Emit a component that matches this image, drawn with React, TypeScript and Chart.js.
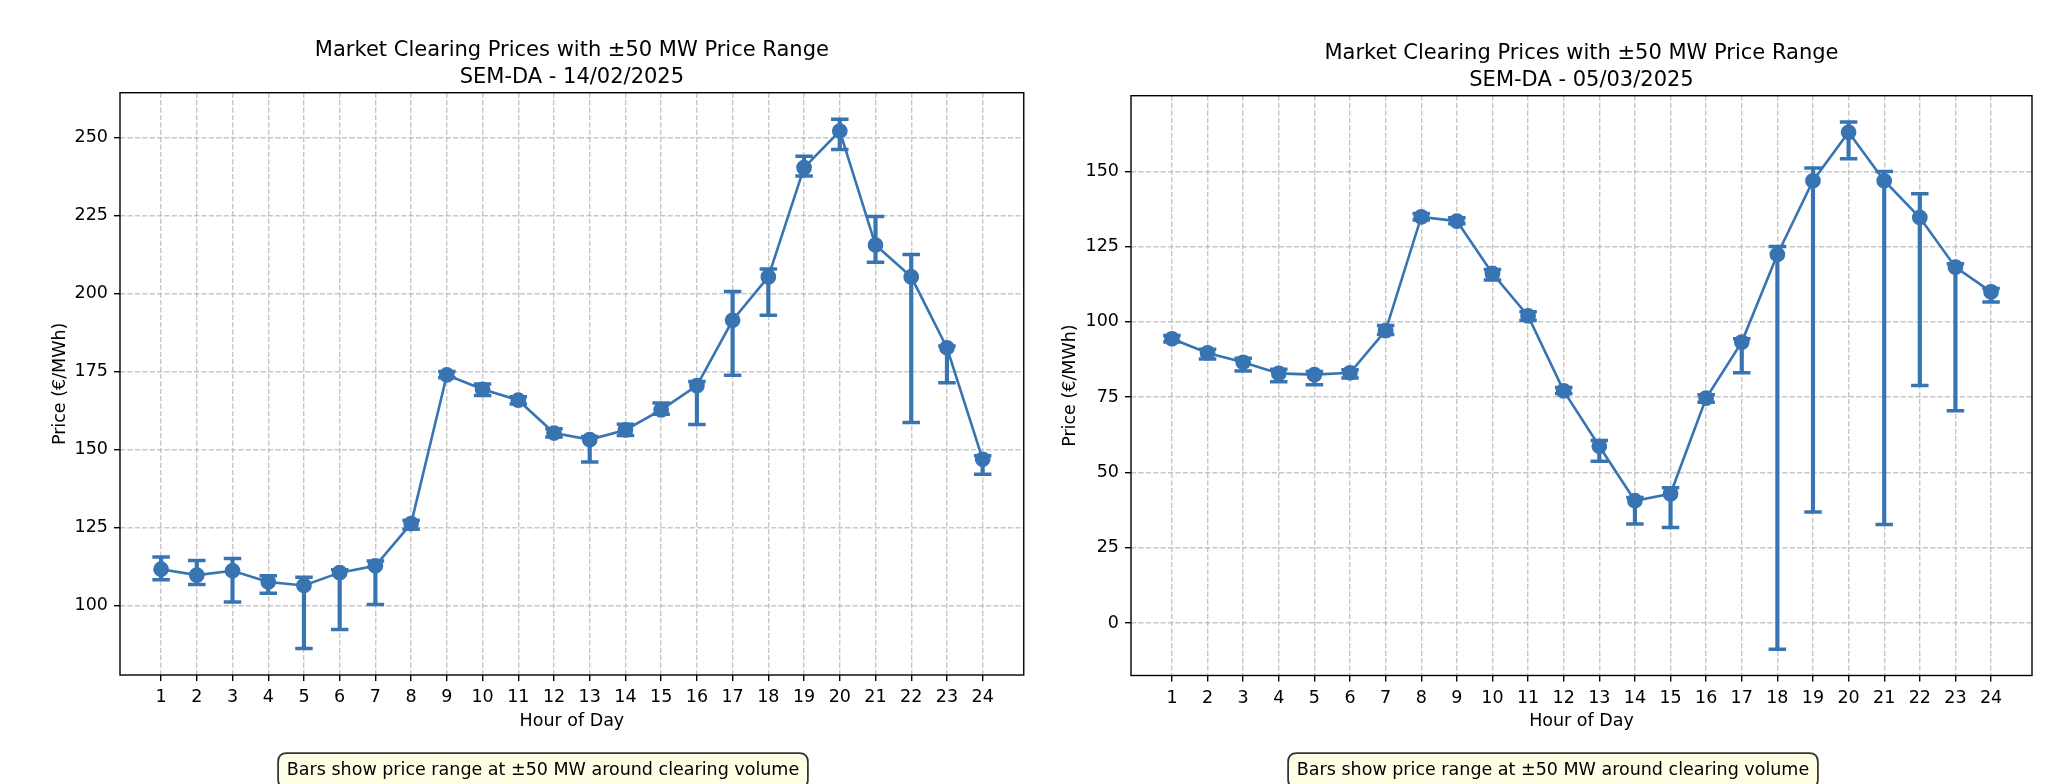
import React, { useEffect, useRef } from "react";
import { Chart, registerables } from "chart.js";

Chart.register(...registerables);

// ---------- data ----------
const hours = [1, 2, 3, 4, 5, 6, 7, 8, 9, 10, 11, 12, 13, 14, 15, 16, 17, 18, 19, 20, 21, 22, 23, 24];
const hourLabels = ["1", "2", "3", "4", "5", "6", "7", "8", "9", "10", "11", "12", "13", "14", "15", "16", "17", "18", "19", "20", "21", "22", "23", "24"];

const febPrice = [111.7, 109.8, 111.2, 107.6, 106.5, 110.6, 112.8, 126.3, 173.9, 169.3, 165.8, 155.3, 153.2, 156.3, 162.7, 170.5, 191.4, 205.3, 240.3, 252.0, 215.5, 205.3, 182.6, 146.9];
const febLow = [108.3, 106.8, 101.2, 104.0, 86.3, 92.4, 100.4, 124.5, 173.0, 167.3, 164.6, 154.0, 146.0, 154.5, 161.3, 158.0, 173.8, 193.0, 237.6, 246.1, 210.0, 158.7, 171.4, 142.1];
const febHigh = [115.6, 114.5, 115.1, 109.6, 109.1, 111.5, 114.3, 127.4, 175.0, 171.0, 166.9, 156.7, 154.2, 158.1, 164.9, 171.8, 200.6, 207.8, 243.9, 255.8, 224.6, 212.5, 183.2, 148.0];

const marPrice = [94.4, 89.7, 86.6, 82.9, 82.5, 83.1, 97.1, 134.9, 133.5, 116.1, 102.0, 77.1, 58.7, 40.6, 42.9, 74.7, 93.3, 122.4, 146.9, 163.0, 146.9, 134.7, 118.2, 110.0];
const marLow = [93.3, 87.7, 83.7, 80.1, 79.1, 81.4, 95.8, 133.9, 132.6, 113.9, 100.5, 76.2, 53.7, 32.9, 31.7, 73.3, 83.1, -8.7, 36.9, 154.2, 32.7, 78.9, 70.5, 106.6];
const marHigh = [95.5, 90.9, 87.9, 84.3, 83.5, 84.1, 98.8, 136.0, 134.6, 117.4, 103.4, 78.2, 60.6, 41.7, 44.9, 75.8, 94.4, 125.1, 151.1, 166.4, 150.0, 142.6, 119.3, 111.1];

const febYTicks = [100, 125, 150, 175, 200, 225, 250];
const marYTicks = [0, 25, 50, 75, 100, 125, 150];

const titleLine1 = "Market Clearing Prices with ±50 MW Price Range";
const febTitleLine2 = "SEM-DA - 14/02/2025";
const marTitleLine2 = "SEM-DA - 05/03/2025";
const xAxisTitle = "Hour of Day";
const yAxisTitle = "Price (€/MWh)";
const noteText = "Bars show price range at ±50 MW around clearing volume";

// ---------- style ----------
const BLUE = "#3874b2";
const FONT = '"DejaVu Sans", sans-serif';
const GRID = "rgba(176,176,176,0.7)";
const CW = 1036;
const CH = 784;

Chart.defaults.font.family = FONT;
Chart.defaults.color = "#000";

interface Layout {
  yAxisWidth: number;
  padTop: number;
  padRight: number;
  xAxisHeight: number;
  yTitlePad: number;
  xTitlePad: number;
  titleY: [number, number];
  noteCx: number;
  noteTop: number;
}

function autoRange(lo: number[], hi: number[]): [number, number] {
  const mn = Math.min(...lo);
  const mx = Math.max(...hi);
  const m = (mx - mn) * 0.05;
  return [mn - m, mx + m];
}

function buildConfig(
  price: number[],
  low: number[],
  high: number[],
  yTicks: number[],
  title2: string,
  L: Layout
): any {
  const [yMin, yMax] = autoRange(low, high);
  const xSpan = hours[hours.length - 1] - hours[0];
  const xMin = hours[0] - xSpan * 0.05;
  const xMax = hours[hours.length - 1] + xSpan * 0.05;

  const decor = {
    id: "decor",
    afterDatasetsDraw(chart: any) {
      const { ctx, chartArea: a } = chart;
      ctx.save();
      ctx.setLineDash([]);
      ctx.strokeStyle = "#000";
      ctx.lineWidth = 1.4;
      ctx.strokeRect(a.left, a.top, a.right - a.left, a.bottom - a.top);
      ctx.restore();
    },
    afterDraw(chart: any) {
      const { ctx, chartArea: a } = chart;
      ctx.save();
      ctx.fillStyle = "#000";
      ctx.textAlign = "center";
      ctx.textBaseline = "middle";
      ctx.font = `21px ${FONT}`;
      const cx = (a.left + a.right) / 2;
      ctx.fillText(titleLine1, cx, L.titleY[0]);
      ctx.fillText(title2, cx, L.titleY[1]);

      // note box
      ctx.font = `17.5px ${FONT}`;
      const w = ctx.measureText(noteText).width;
      const pad = 8.75;
      const bx = L.noteCx - w / 2 - pad;
      const by = L.noteTop;
      const bw = w + 2 * pad;
      const bh = 17.5 + 2 * pad;
      const r = 8.75;
      ctx.beginPath();
      ctx.moveTo(bx + r, by);
      ctx.lineTo(bx + bw - r, by);
      ctx.quadraticCurveTo(bx + bw, by, bx + bw, by + r);
      ctx.lineTo(bx + bw, by + bh - r);
      ctx.quadraticCurveTo(bx + bw, by + bh, bx + bw - r, by + bh);
      ctx.lineTo(bx + r, by + bh);
      ctx.quadraticCurveTo(bx, by + bh, bx, by + bh - r);
      ctx.lineTo(bx, by + r);
      ctx.quadraticCurveTo(bx, by, bx + r, by);
      ctx.closePath();
      ctx.fillStyle = "rgba(255,255,224,0.8)";
      ctx.fill();
      ctx.strokeStyle = "rgba(0,0,0,0.8)";
      ctx.lineWidth = 1.75;
      ctx.stroke();
      ctx.fillStyle = "#000";
      ctx.fillText(noteText, L.noteCx, by + bh / 2);
      ctx.restore();
    },
  };

  const tickFont = { size: 17.5, family: FONT };
  const gridOpts = {
    display: true,
    drawOnChartArea: true,
    drawTicks: true,
    offset: false,
    color: GRID,
    lineWidth: 1.4,
    tickLength: 6,
    tickColor: "#000",
    tickWidth: 1.4,
    tickBorderDash: [],
  };

  return {
    type: "line",
    data: {
      datasets: [
        {
          type: "line",
          order: 0,
          data: hours.map((h, i) => ({ x: h, y: price[i] })),
          borderColor: BLUE,
          borderWidth: 2.6,
          tension: 0,
          pointStyle: "circle",
          pointRadius: 7,
          pointBorderWidth: 1.75,
          pointBackgroundColor: BLUE,
          pointBorderColor: BLUE,
          fill: false,
        },
        {
          type: "bar",
          order: 1,
          data: hours.map((h, i) => ({ x: h, y: [low[i], high[i]] })),
          backgroundColor: BLUE,
          borderWidth: 0,
          barThickness: 3.5,
          grouped: false,
        },
        {
          type: "line",
          order: 2,
          showLine: false,
          data: hours
            .map((h, i) => ({ x: h, y: low[i] }))
            .concat(hours.map((h, i) => ({ x: h, y: high[i] }))),
          pointStyle: "line",
          pointRadius: 8.75,
          pointBorderWidth: 3.5,
          pointBorderColor: BLUE,
          pointBackgroundColor: BLUE,
        },
      ],
    },
    options: {
      responsive: false,
      animation: false,
      devicePixelRatio: 1,
      events: [],
      layout: { padding: { top: L.padTop, right: L.padRight, left: 0, bottom: 0 } },
      plugins: {
        legend: { display: false },
        tooltip: { enabled: false },
        title: { display: false },
      },
      scales: {
        x: {
          type: "linear",
          position: "bottom",
          min: xMin,
          max: xMax,
          offset: false,
          bounds: "data",
          afterBuildTicks: (s: any) => {
            s.ticks = hours.map((v) => ({ value: v }));
          },
          afterFit: (s: any) => {
            s.height = L.xAxisHeight;
          },
          ticks: {
            autoSkip: false,
            maxRotation: 0,
            minRotation: 0,
            padding: 6,
            color: "#000",
            font: tickFont,
            callback: (_v: any, i: number) => hourLabels[i],
          },
          grid: gridOpts,
          border: { display: false, dash: [5.2, 2.2] },
          title: {
            display: true,
            text: xAxisTitle,
            color: "#000",
            font: tickFont,
            padding: { top: 0, bottom: L.xTitlePad },
          },
        },
        y: {
          type: "linear",
          position: "left",
          min: yMin,
          max: yMax,
          bounds: "data",
          beginAtZero: false,
          afterBuildTicks: (s: any) => {
            s.ticks = yTicks.map((v) => ({ value: v }));
          },
          afterFit: (s: any) => {
            s.width = L.yAxisWidth;
          },
          ticks: {
            autoSkip: false,
            padding: 6,
            color: "#000",
            font: tickFont,
            callback: (v: any) => String(v),
          },
          grid: gridOpts,
          border: { display: false, dash: [5.2, 2.2] },
          title: {
            display: true,
            text: yAxisTitle,
            color: "#000",
            font: tickFont,
            padding: { top: L.yTitlePad, bottom: 0 },
          },
        },
      },
    },
    plugins: [decor],
  };
}

const febLayout: Layout = {
  yAxisWidth: 120,
  padTop: 92.7,
  padRight: 12,
  xAxisHeight: 109,
  yTitlePad: 50,
  xTitlePad: 52.5,
  titleY: [51, 77.5],
  noteCx: 543,
  noteTop: 753,
};

const marLayout: Layout = {
  yAxisWidth: 95,
  padTop: 95.7,
  padRight: 40,
  xAxisHeight: 108.5,
  yTitlePad: 24,
  xTitlePad: 52.5,
  titleY: [54, 80.5],
  noteCx: 517,
  noteTop: 753,
};

function PriceChart(props: { make: () => any; left: number }) {
  const ref = useRef<HTMLCanvasElement | null>(null);
  useEffect(() => {
    if (!ref.current) return;
    const chart = new Chart(ref.current, props.make());
    return () => chart.destroy();
  }, []);
  return (
    <canvas
      ref={ref}
      width={CW}
      height={CH}
      style={{ position: "absolute", left: props.left, top: 0, width: CW, height: CH }}
    />
  );
}

export default function App() {
  return (
    <div
      style={{
        position: "absolute",
        left: 0,
        top: 0,
        width: CW * 2,
        height: CH,
        background: "#fff",
        overflow: "hidden",
      }}
    >
      <PriceChart
        left={0}
        make={() => buildConfig(febPrice, febLow, febHigh, febYTicks, febTitleLine2, febLayout)}
      />
      <PriceChart
        left={CW}
        make={() => buildConfig(marPrice, marLow, marHigh, marYTicks, marTitleLine2, marLayout)}
      />
    </div>
  );
}
